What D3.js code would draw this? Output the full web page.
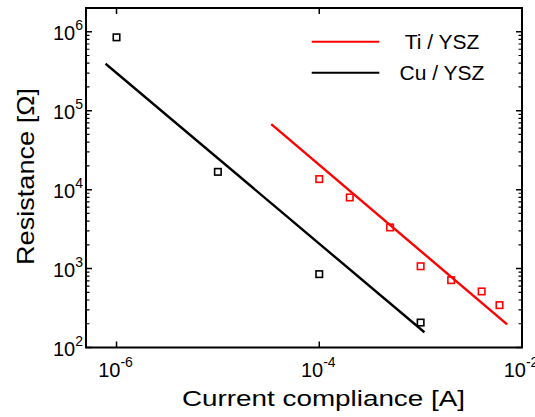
<!DOCTYPE html>
<html><head><meta charset="utf-8">
<script src="https://cdn.jsdelivr.net/npm/d3@7"></script>
<style>body{margin:0;background:#fff;} svg{display:block;font-family:Arial,"Liberation Sans",sans-serif;}</style>
</head><body>
<svg id="c" width="535" height="417"></svg>
<script>
// Data
const cuX = [1e-6, 1e-5, 1e-4, 1e-3];
const cuY = [8.5e5, 1.68e4, 850, 207];
const tiX = [1e-4, 2e-4, 5e-4, 1e-3, 2e-3, 4e-3, 6e-3];
const tiY = [1.36e4, 7.96e3, 3.32e3, 1.07e3, 713, 513, 344];
const cuFitX = [7.8e-7, 1.09e-3];
const cuFitY = [3.93e5, 156];
const tiFitX = [3.36e-5, 7.13e-3];
const tiFitY = [6.76e4, 196];
const xTickVals = [1e-6, 1e-4, 1e-2];
const xTickExp = ["-6", "-4", "-2"];
const yTickVals = [1e2, 1e3, 1e4, 1e5, 1e6];
const yTickExp = ["2", "3", "4", "5", "6"];
const seriesNames = ["Ti / YSZ", "Cu / YSZ"];
const seriesColors = ["#ff0000", "#000000"];

const svg = d3.select("#c");
const L = 86, R = 522, T = 8, B = 347.5;
const x = d3.scaleLog().domain([5e-7, 1e-2]).range([L, R]);
const y = d3.scaleLog().domain([100, 2e6]).range([B, T]);

// minor y ticks
const yMinor = [];
for (let e = 2; e <= 6; e++) for (let m = 2; m <= 9; m++) { const v = m * Math.pow(10, e); if (v < 2e6) yMinor.push(v); }

const g = svg.append("g");
g.selectAll(".ymin").data(yMinor).join("path")
  .attr("d", d => `M${L},${y(d)}h3.5M${R},${y(d)}h-3.5`).attr("stroke", "#000").attr("stroke-width", 1.2);
g.selectAll(".ymaj").data(yTickVals).join("path")
  .attr("d", d => `M${L},${y(d)}h6M${R},${y(d)}h-6`).attr("stroke", "#000").attr("stroke-width", 1.5);
g.selectAll(".xmaj").data(xTickVals).join("path")
  .attr("d", d => `M${x(d)},${B}v-6M${x(d)},${T}v6`).attr("stroke", "#000").attr("stroke-width", 1.5);

// frame
svg.append("rect").attr("x", L).attr("y", T).attr("width", R - L).attr("height", B - T)
  .attr("fill", "none").attr("stroke", "#000").attr("stroke-width", 2);

// y tick labels
const yl = svg.selectAll(".ylab").data(yTickVals).join("text")
  .attr("x", 83).attr("y", d => y(d) + 8).attr("text-anchor", "end").attr("font-size", 20);
yl.append("tspan").text("10");
yl.append("tspan").attr("dy", -10).attr("font-size", 14).text((d, i) => yTickExp[i]);

// x tick labels
const xl = svg.selectAll(".xlab").data(xTickVals).join("text")
  .attr("x", d => x(d) - 1).attr("y", 377).attr("text-anchor", "middle").attr("font-size", 20);
xl.append("tspan").text("10");
xl.append("tspan").attr("dy", -10.5).attr("font-size", 14).text((d, i) => xTickExp[i]);

// axis titles
svg.append("text").attr("x", 182).attr("y", 406).attr("font-size", 22)
  .attr("textLength", 283).attr("lengthAdjust", "spacingAndGlyphs").text("Current compliance [A]");
svg.append("text").attr("transform", "translate(33.5,265) rotate(-90)").attr("font-size", 24)
  .attr("textLength", 177).attr("lengthAdjust", "spacingAndGlyphs").text("Resistance [Ω]");

// fit lines
const line = d3.line().x(d => x(d[0])).y(d => y(d[1]));
svg.append("path").datum(cuFitX.map((v, i) => [v, cuFitY[i]])).attr("d", line)
  .attr("stroke", seriesColors[1]).attr("stroke-width", 2.4).attr("fill", "none");
svg.append("path").datum(tiFitX.map((v, i) => [v, tiFitY[i]])).attr("d", line)
  .attr("stroke", seriesColors[0]).attr("stroke-width", 2.4).attr("fill", "none");

// markers
const s = 6.5;
svg.selectAll(".cu").data(cuX).join("rect")
  .attr("x", d => x(d) - s / 2).attr("y", (d, i) => y(cuY[i]) - s / 2).attr("width", s).attr("height", s)
  .attr("fill", "none").attr("stroke", seriesColors[1]).attr("stroke-width", 1.6);
svg.selectAll(".ti").data(tiX).join("rect")
  .attr("x", d => x(d) - s / 2).attr("y", (d, i) => y(tiY[i]) - s / 2).attr("width", s).attr("height", s)
  .attr("fill", "none").attr("stroke", seriesColors[0]).attr("stroke-width", 1.6);

// legend
const legY = [41.7, 72.7];
seriesNames.forEach((n, i) => {
  svg.append("line").attr("x1", 311.7).attr("x2", 379.3).attr("y1", legY[i]).attr("y2", legY[i])
    .attr("stroke", seriesColors[i]).attr("stroke-width", 2);
  svg.append("text").attr("x", 442).attr("y", legY[i] + 7.5).attr("text-anchor", "middle")
    .attr("font-size", 21).text(n);
});
</script>
</body></html>
